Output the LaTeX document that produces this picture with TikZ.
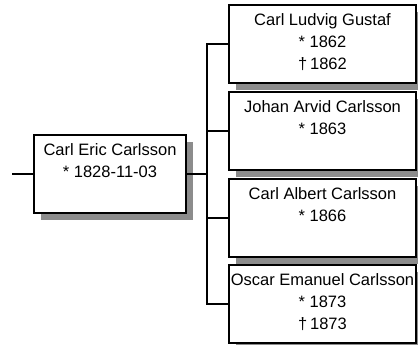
\documentclass[tikz,border=0pt]{standalone}
\usepackage{fontspec}
\setmainfont{Liberation Sans}
\usetikzlibrary{shadows}
\definecolor{shadowgray}{RGB}{140,140,140}
\begin{document}
\begin{tikzpicture}[x=1pt,y=-1pt,
	person/.style={draw,line width=2pt,fill=white,minimum height=78pt,inner sep=0pt,
		drop shadow={shadow xshift=7pt,shadow yshift=-7pt,fill=shadowgray,opacity=1}},
	info/.style={anchor=north,align=center,inner sep=0pt,yshift=-9pt,
		font=\fontsize{16.5}{22}\selectfont},
	line/.style={line width=2pt}]
	\useasboundingbox (0,0) rectangle (418,345);

	\node[person,minimum width=152pt] at (110,174) (eric) {};
	\node[person,minimum width=187pt] at (322.5,44) (ludvig) {};
	\node[person,minimum width=187pt] at (322.5,131) (johan) {};
	\node[person,minimum width=187pt] at (322.5,218) (albert) {};
	\node[person,minimum width=187pt] at (322.5,304) (oscar) {};

	\node[info] at (eric.north) (ericinfo) {Carl Eric Carlsson\\* 1828-11-03};
	\node[info] at (ludvig.north) (ludviginfo) {Carl Ludvig Gustaf\\* 1862\\†\,1862};
	\node[info] at (johan.north) (johaninfo) {Johan Arvid Carlsson\\* 1863};
	\node[info] at (albert.north) (albertinfo) {Carl Albert Carlsson\\* 1866};
	\node[info] at (oscar.north) (oscarinfo) {Oscar Emanuel Carlsson\\* 1873\\†\,1873};

	\coordinate (parent) at (12,174);
	\coordinate (fork) at (207,174);

	\path[line] (parent) edge (eric.west)
	(eric.east) edge (fork)
	(fork) edge[to path={|- (\tikztotarget)}] (ludvig.west)
	(fork) edge[to path={|- (\tikztotarget)}] (johan.west)
	(fork) edge[to path={|- (\tikztotarget)}] (albert.west)
	(fork) edge[to path={|- (\tikztotarget)}] (oscar.west);
\end{tikzpicture}
\end{document}
